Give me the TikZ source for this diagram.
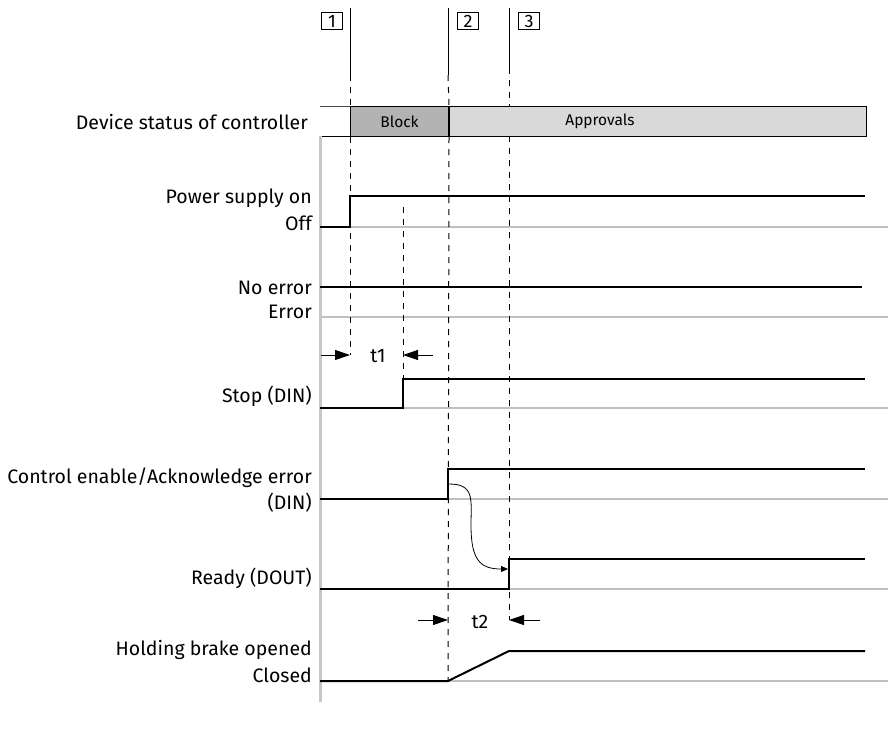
\documentclass[tikz,border=0pt]{standalone}
\usepackage{fontspec}
\setmainfont{Fira Sans}
\usetikzlibrary{arrows.meta}

\definecolor{blockgray}{HTML}{B3B3B3}
\definecolor{approvgray}{HTML}{D9D9D9}
\definecolor{basegray}{HTML}{C0C0C0}

\begin{document}
\begin{tikzpicture}[x=1pt,y=-1pt]
      \tikzset{sig/.style={line width=2pt, line join=miter},
        base/.style={draw=basegray, line width=1.3pt},
        guide/.style={line width=1pt, dash pattern=on 6pt off 6pt},
        lbl/.style={anchor=east, inner sep=0pt, font=\fontsize{19.5}{23}\selectfont},
        num/.style={draw, line width=0.8pt, minimum width=21pt, minimum height=17pt, inner sep=0pt, font=\fontsize{18}{20}\selectfont},
        bar/.style={draw, line width=1pt, anchor=north west, minimum height=30pt, inner sep=0pt},
        dim/.style={-{Triangle[length=15pt, width=10pt]}, line width=1pt}}
      \useasboundingbox (0,0) rectangle (891,731);

      % labels
      \node[lbl] (dev) at (308,122) {Device status of controller};
      \node[lbl] (pwrOn) at (312,198) {Power supply on};
      \node[lbl] (pwrOff) at (312,223) {Off};
      \node[lbl] (noErr) at (312,288) {No error};
      \node[lbl] (err) at (312,312) {Error};
      \node[lbl] (stop) at (312,396) {Stop (DIN)};
      \node[lbl] (ctrl) at (312,478) {Control enable/Acknowledge error};
      \node[lbl] (ctrlDin) at (312,503) {(DIN)};
      \node[lbl] (rdy) at (312,578) {Ready (DOUT)};
      \node[lbl] (brkOpen) at (312,650) {Holding brake opened};
      \node[lbl] (brkClosed) at (312,675) {Closed};

      % status bar
      \draw[line width=0.8pt, draw=black!70] (320,106) -- (350,106);
      \draw[line width=0.8pt] (320,136) -- (350,136);
      \node[bar, fill=blockgray, minimum width=98pt] (blk) at (350,106) {};
      \node[bar, fill=approvgray, minimum width=417pt] (appr) at (blk.north east) {};
      \node[font=\fontsize{15.5}{18}\selectfont] (blkTxt) at (blk.center) {Block};
      \node[font=\fontsize{15.5}{18}\selectfont] (apprTxt) at (600,121) {Approvals};

      % axis and baselines
      \draw[draw=black!22, line width=3pt] (320,136) -- (320,702);
      \foreach \y in {227,317,408,499,589,681}
        \draw[base] (321.5,\y) -- (888,\y);

      % markers
      \node[num] (m1) at (332,21) {1};
      \node[num] (m2) at (468,21) {2};
      \node[num] (m3) at (529,21) {3};
      \coordinate (a1) at (350,8);  \coordinate (b1) at (350,75);  \coordinate (c1) at (350,355);
      \coordinate (a2) at (448,8);  \coordinate (b2) at (448,75);  \coordinate (c2) at (448,681);
      \coordinate (a3) at (509,8);  \coordinate (b3) at (509,68);  \coordinate (c3) at (509,620);
      \draw[line width=1pt] (a1) -- (b1);
      \draw[line width=1pt] (a2) -- (b2);
      \draw[line width=1pt] (a3) -- (b3);
      \draw[guide] (b1) -- (blk.north west);
      \draw[guide] (blk.south west) -- (c1);
      \draw[guide] (b2) -- (blk.north east);
      \draw[guide] (blk.south east) -- (c2);
      \draw[guide] (b3) -- (509,106);
      \draw[guide] (509,136) -- (c3);
      \draw[guide] (403,207) -- (403,379);

      % signals
      \draw[sig] (320,227) -- (350,227) -- (350,196) -- (865,196);
      \draw[sig] (320,287) -- (862,287);
      \draw[sig] (320,408) -- (403,408) -- (403,379) -- (865,379);
      \draw[sig] (320,499) -- (448,499) -- (448,469) -- (865,469);
      \draw[sig] (320,589) -- (509,589) -- (509,559) -- (865,559);
      \draw[sig] (320,681) -- (448,681) -- (509,651) -- (865,651);

      % enable -> ready
      \coordinate (cs) at (449,484);
      \coordinate (ce) at (508,569);
      \draw[-{Triangle[length=7pt, width=6pt]}, line width=0.8pt] (cs) .. controls (475,484) and (471,500) .. (471,525)
        .. controls (471,560) and (480,569) .. (ce);

      % times
      \coordinate (t1a) at (321,355); \coordinate (t1b) at (433,355);
      \draw[dim] (t1a) -- (c1);
      \draw[dim] (t1b) -- (403,355);
      \node[font=\fontsize{19.5}{23}\selectfont] (t1) at (378,356) {t1};
      \coordinate (t2a) at (418,620); \coordinate (t2b) at (540,620);
      \draw[dim] (t2a) -- (448,620);
      \draw[dim] (t2b) -- (c3);
      \node[font=\fontsize{19.5}{23}\selectfont] (t2) at (480,622) {t2};
\end{tikzpicture}
\end{document}
